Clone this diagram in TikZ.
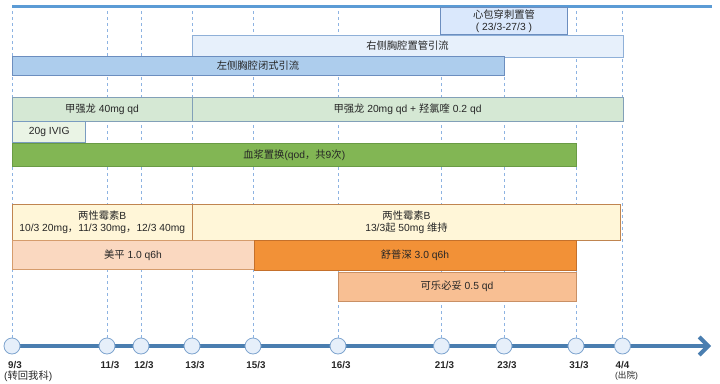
\documentclass[tikz,border=0pt]{standalone}
\usepackage{fontspec}
\setmainfont{Liberation Sans}
\newfontfamily\zhfont{Noto Sans CJK SC}
\newcommand{\zh}[1]{{\zhfont #1}}
\usepackage{xcolor}
\definecolor{TopLine}{HTML}{5B9BD5}
\definecolor{Guide}{HTML}{8DB3E2}
\definecolor{DayFill}{HTML}{E6EFFA}
\definecolor{DayLine}{HTML}{7FA5CF}
\definecolor{AxisBlue}{HTML}{4A7EB0}
\definecolor{PericFill}{HTML}{DAE8FC}
\definecolor{PericLine}{HTML}{6C8EBF}
\definecolor{RDrainFill}{HTML}{E7F0FB}
\definecolor{RDrainLine}{HTML}{8FB0D8}
\definecolor{LDrainFill}{HTML}{ADCDED}
\definecolor{LDrainLine}{HTML}{6C8EBF}
\definecolor{SteroidFill}{HTML}{D5E8D4}
\definecolor{SteroidLine}{HTML}{82A0B8}
\definecolor{IvigFill}{HTML}{EAF4E5}
\definecolor{IvigLine}{HTML}{7A9CC0}
\definecolor{PlasmaFill}{HTML}{82B654}
\definecolor{PlasmaLine}{HTML}{6A9B45}
\definecolor{AmphoFill}{HTML}{FFF6D8}
\definecolor{AmphoLine}{HTML}{C08550}
\definecolor{MeroFill}{HTML}{FAD8C0}
\definecolor{MeroLine}{HTML}{D59C6C}
\definecolor{SulpFill}{HTML}{F29137}
\definecolor{SulpLine}{HTML}{C5702B}
\definecolor{LevoFill}{HTML}{F8BF93}
\definecolor{LevoLine}{HTML}{C99065}
\usetikzlibrary{arrows.meta,backgrounds}

\begin{document}
\begin{tikzpicture}[x=1pt,y=-1pt,
    box/.style={draw, line width=0.8pt},
    lbl/.style={font=\fontsize{10.3}{12}\selectfont, text=black!85, align=center, inner sep=0pt},
    day/.style={circle, draw=DayLine, fill=DayFill, line width=0.8pt, minimum size=16pt, inner sep=0pt},
    date/.style={font=\fontsize{9.8}{11}\selectfont\bfseries, text=black!85, anchor=north, inner sep=0pt},
    guide/.style={Guide, dashed, line width=0.8pt}]
    \useasboundingbox (0,0) rectangle (720,383);
    \coordinate (top) at (0,8);
    \coordinate (tip) at (711,346);

    \draw[TopLine, line width=2.5pt] (12,6.5) -- (712,6.5);

    \foreach \n/\x/\t in {a/12/9, b/107/11, c/141/12, d/192/13, e/253/15, f/338/16, g/441.5/21, h/504/23, i/576/31} {
        \node[day] (\n) at (\x,346) {};
        \node[date] (\n lbl) at (\x+3,361) {\t/3};
        \begin{scope}[on background layer]
            \draw[guide] (\n.north) -- (\n |- top);
        \end{scope}
    }
    \node[day] (j) at (622.5,346) {};
    \node[date] (j lbl) at (622.5,361) {4/4};
    \begin{scope}[on background layer]
        \draw[guide] (j.north) -- (j |- top);
        \draw[AxisBlue, line width=4pt, -{Straight Barb[length=9pt,width=18pt]}] (a) -- (tip);
    \end{scope}
    \node[lbl, anchor=north west] (back) at (4,371) {(\zh{转回我科})};
    \node[lbl, font=\fontsize{8.6}{10}\selectfont, anchor=north] (out) at (626.5,371.5) {(\zh{出院})};

    % drainage
    \draw[box, draw=PericLine, fill=PericFill] (440.5,7.5) rectangle (567.5,34.7)
        node[midway, lbl] (peric) {\zh{心包穿刺置管}\\( 23/3-27/3 )};
    \draw[box, draw=RDrainLine, fill=RDrainFill] (192,35) rectangle (623,57)
        node[midway, lbl] (rdrain) {\zh{右侧胸腔置管引流}};
    \draw[box, draw=LDrainLine, fill=LDrainFill] (12,56) rectangle (504,75.5)
        node[midway, lbl] (ldrain) {\zh{左侧胸腔闭式引流}};

    % immunotherapy
    \draw[box, draw=SteroidLine, fill=SteroidFill] (12,97) rectangle (192,121.3)
        node[midway, lbl] (mp40) {\zh{甲强龙} 40mg qd};
    \draw[box, draw=SteroidLine, fill=SteroidFill] (192,97) rectangle (623,121.3)
        node[midway, lbl] (mp20) {\zh{甲强龙} 20mg qd + \zh{羟氯喹} 0.2 qd};
    \draw[box, draw=IvigLine, fill=IvigFill] (12.7,121.3) rectangle (85.7,142.7)
        node[midway, lbl] (ivig) {20g IVIG};
    \draw[box, draw=PlasmaLine, fill=PlasmaFill] (12,143.3) rectangle (576.5,166.3)
        node[midway, lbl] (plasma) {\zh{血浆置换}(qod\zh{，共}9\zh{次})};

    % anti-infection
    \draw[box, draw=AmphoLine, fill=AmphoFill] (12,204.5) rectangle (192.5,240.5)
        node[midway, lbl] (ampho1) {\zh{两性霉素}B\\10/3 20mg\zh{，}11/3 30mg\zh{，}12/3 40mg};
    \draw[box, draw=AmphoLine, fill=AmphoFill] (192.5,204.5) rectangle (620.5,240.5)
        node[midway, lbl] (ampho2) {\zh{两性霉素}B\\13/3\zh{起} 50mg \zh{维持}};
    \draw[box, draw=MeroLine, fill=MeroFill] (12,240.5) rectangle (254,269.3)
        node[midway, lbl] (mero) {\zh{美平} 1.0 q6h};
    \draw[box, draw=SulpLine, fill=SulpFill] (254,240.5) rectangle (576,270)
        node[midway, lbl] (sulp) {\zh{舒普深} 3.0 q6h};
    \draw[box, draw=LevoLine, fill=LevoFill] (338,272) rectangle (576,301.3)
        node[midway, lbl] (levo) {\zh{可乐必妥} 0.5 qd};
\end{tikzpicture}
\end{document}
